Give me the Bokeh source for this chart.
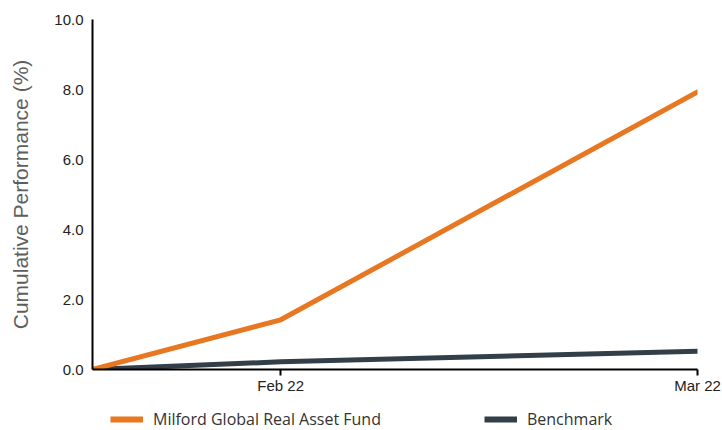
from datetime import datetime
from bokeh.plotting import figure
from bokeh.layouts import column
from bokeh.models import (ColumnDataSource, Range1d, FixedTicker, Legend, LegendItem,
                          NumeralTickFormatter)
from bokeh.embed import file_html
from bokeh.resources import INLINE

# ---- data ----
dates = [datetime(2022, 2, 14), datetime(2022, 2, 28), datetime(2022, 3, 31)]
fund = [0.0, 1.42, 7.93]
benchmark = [0.0, 0.22, 0.52]
tick_dates = [datetime(2022, 2, 28), datetime(2022, 3, 31)]
tick_labels = ["Feb 22", "Mar 22"]
y_ticks = [0, 2, 4, 6, 8, 10]
series_names = ["Milford Global Real Asset Fund", "Benchmark"]
y_title = "Cumulative Performance (%)"
colors = ["#E87722", "#333F48"]

src = ColumnDataSource(dict(x=dates, fund=fund, bench=benchmark))

# ---- main chart ----
p = figure(width=722, height=398, output_backend="svg", toolbar_location=None,
           x_axis_type="datetime",
           x_range=Range1d(dates[0], dates[-1]), y_range=Range1d(0, 10),
           min_border_left=92, min_border_right=25, min_border_top=19,
           min_border_bottom=29)
p.outline_line_color = None
p.grid.grid_line_color = None

p.line("x", "bench", source=src, line_color=colors[1], line_width=5,
       line_cap="round", line_join="round")
p.line("x", "fund", source=src, line_color=colors[0], line_width=5,
       line_cap="round", line_join="round")

tick_ms = [d.timestamp() * 1000 for d in tick_dates]
p.xaxis.ticker = FixedTicker(ticks=tick_ms)
p.xaxis.major_label_overrides = {t: l for t, l in zip(tick_ms, tick_labels)}
p.xaxis.axis_line_color = "black"
p.xaxis.axis_line_width = 2
p.xaxis.major_tick_line_color = "black"
p.xaxis.major_tick_line_width = 2
p.xaxis.major_tick_out = 6
p.xaxis.major_tick_in = 0
p.xaxis.minor_tick_line_color = None
p.xaxis.major_label_text_font = "Liberation Sans"
p.xaxis.major_label_text_font_size = "15px"
p.xaxis.major_label_text_color = "#222222"
p.xaxis.major_label_standoff = 1

p.yaxis.ticker = FixedTicker(ticks=y_ticks)
p.yaxis.formatter = NumeralTickFormatter(format="0.0")
p.yaxis.axis_line_color = "black"
p.yaxis.axis_line_width = 2
p.yaxis.major_tick_line_color = None
p.yaxis.major_tick_out = 0
p.yaxis.major_tick_in = 0
p.yaxis.minor_tick_line_color = None
p.yaxis.major_label_text_font = "Liberation Sans"
p.yaxis.major_label_text_font_size = "15px"
p.yaxis.major_label_text_color = "#222222"
p.yaxis.major_label_standoff = 9
p.yaxis.axis_label = y_title
p.yaxis.axis_label_text_font = "Liberation Sans"
p.yaxis.axis_label_text_font_style = "normal"
p.yaxis.axis_label_text_font_size = "21px"
p.yaxis.axis_label_text_color = "#5e5e5e"
p.yaxis.axis_label_standoff = 19

# ---- legend strip ----
lp = figure(width=722, height=32, output_backend="svg", toolbar_location=None,
            x_axis_type="datetime", x_axis_location=None, y_axis_location=None,
            x_range=Range1d(dates[0], dates[-1]), y_range=Range1d(100, 101),
            min_border_left=0, min_border_right=0, min_border_top=0,
            min_border_bottom=0)
lp.outline_line_color = None
lp.grid.grid_line_color = None
lf = lp.line("x", "fund", source=src, line_color=colors[0], line_width=6, line_cap="butt")
lb = lp.line("x", "bench", source=src, line_color=colors[1], line_width=6, line_cap="butt")

legend = Legend(items=[LegendItem(label=series_names[0], renderers=[lf]),
                       LegendItem(label=series_names[1], renderers=[lb])],
                orientation="horizontal", location=(18, 0),
                padding=0, margin=0, spacing=103, glyph_width=33, glyph_height=14,
                label_height=14, label_standoff=10, label_text_font="Open Sans",
                label_text_font_size="16px", label_text_color="#333333",
                label_text_line_height=1.0,
                border_line_color=None, background_fill_alpha=0)
lp.add_layout(legend, "center")

open("out.html", "w").write(file_html(column(p, lp, spacing=0), INLINE))
